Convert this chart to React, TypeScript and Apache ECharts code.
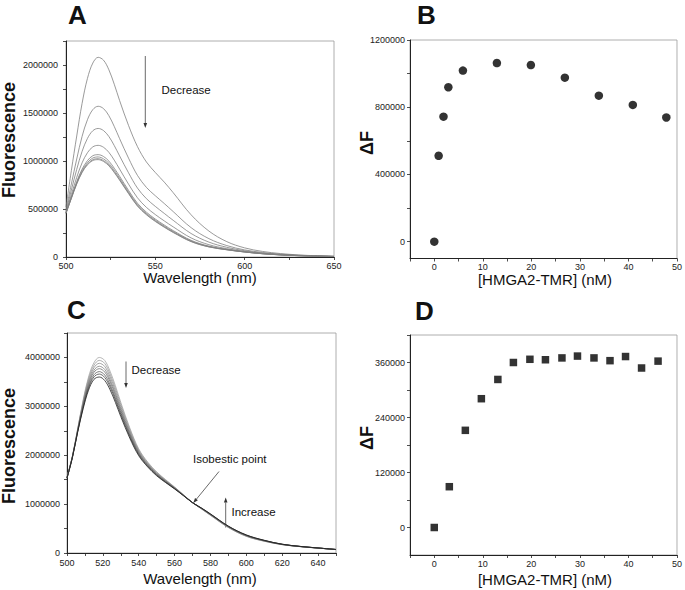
import React, { useEffect, useRef } from 'react';
import * as echarts from 'echarts';

const FONT = '"Liberation Sans", Arial, Helvetica, sans-serif';

// ---------- Panel A: emission spectra (wavelength, nm) ----------
const wavelengthA = [500, 503, 506, 509, 512, 515, 518, 521, 524, 527, 530, 535, 540, 545, 550, 555, 560, 570, 580, 590, 600, 610, 620, 630, 640, 650];
const specA1 = [520000, 900000, 1260000, 1600000, 1860000, 2020000, 2080000, 2050000, 1950000, 1800000, 1630000, 1370000, 1150000, 990000, 880000, 780000, 670000, 440000, 270000, 160000, 95000, 58000, 36000, 22000, 13000, 8000];
const specA2 = [489000, 761000, 1021000, 1256000, 1430000, 1535000, 1570000, 1546000, 1472000, 1360000, 1233000, 1030000, 850000, 725000, 638000, 557000, 473000, 306000, 191000, 119000, 74000, 47000, 29000, 18000, 11000, 7000];
const specA3 = [475000, 698000, 913000, 1100000, 1235000, 1315000, 1339000, 1317000, 1255000, 1161000, 1053000, 877000, 718000, 608000, 527000, 454000, 382000, 245000, 155000, 101000, 65000, 41000, 26000, 16000, 10000, 6000];
const specA4 = [464000, 651000, 830000, 981000, 1086000, 1147000, 1163000, 1143000, 1090000, 1009000, 916000, 759000, 617000, 517000, 442000, 376000, 314000, 199000, 128000, 87000, 58000, 37000, 24000, 15000, 10000, 5000];
const specA5 = [458000, 624000, 785000, 915000, 1004000, 1055000, 1066000, 1047000, 999000, 925000, 841000, 694000, 560000, 467000, 395000, 333000, 275000, 174000, 113000, 79000, 54000, 35000, 23000, 14000, 9000, 5000];
const specA6 = [457000, 618000, 773000, 899000, 983000, 1031000, 1042000, 1022000, 976000, 904000, 822000, 678000, 546000, 454000, 384000, 322000, 266000, 167000, 109000, 77000, 53000, 35000, 22000, 14000, 9000, 5000];
const specA7 = [456000, 613000, 765000, 886000, 968000, 1014000, 1024000, 1004000, 959000, 888000, 807000, 666000, 535000, 445000, 375000, 314000, 259000, 163000, 106000, 76000, 52000, 34000, 22000, 14000, 9000, 5000];
const specA8 = [455000, 610000, 760000, 880000, 960000, 1005000, 1014000, 995000, 950000, 880000, 800000, 660000, 530000, 440000, 370000, 310000, 255000, 160000, 105000, 75000, 52000, 34000, 22000, 14000, 9000, 5000];
const spectraA = [specA1, specA2, specA3, specA4, specA5, specA6, specA7, specA8];

// ---------- Panel B: titration ----------
const concB = [0, 0.9, 1.9, 2.9, 5.9, 12.9, 19.9, 26.9, 33.9, 40.9, 47.8];
const deltaFB = [0, 511000, 744000, 919000, 1018000, 1063000, 1051000, 976000, 869000, 814000, 739000];

// ---------- Panel C: emission spectra ----------
const wavelengthC = [500, 503, 506, 509, 512, 515, 518, 521, 524, 527, 530, 535, 540, 545, 550, 555, 560, 565, 570, 575, 580, 590, 600, 610, 620, 630, 640, 650];
const specC1 = [1550000, 1980000, 2550000, 3130000, 3600000, 3890000, 4000000, 3940000, 3720000, 3420000, 3080000, 2560000, 2130000, 1860000, 1660000, 1500000, 1350000, 1190000, 1030000, 900000, 770000, 520000, 340000, 240000, 170000, 130000, 100000, 70000];
const specC2 = [1547000, 1976000, 2540000, 3103000, 3560000, 3839000, 3940000, 3879000, 3663000, 3369000, 3037000, 2529000, 2109000, 1845000, 1648000, 1491000, 1344000, 1187000, 1030000, 903000, 774000, 524000, 344000, 243000, 171000, 131000, 100000, 70000];
const specC3 = [1544000, 1971000, 2529000, 3076000, 3519000, 3788000, 3880000, 3817000, 3606000, 3318000, 2993000, 2497000, 2088000, 1830000, 1636000, 1482000, 1338000, 1184000, 1030000, 906000, 779000, 529000, 349000, 246000, 173000, 132000, 101000, 71000];
const specC4 = [1541000, 1967000, 2519000, 3049000, 3479000, 3737000, 3820000, 3756000, 3549000, 3267000, 2950000, 2466000, 2067000, 1815000, 1624000, 1473000, 1332000, 1181000, 1030000, 909000, 784000, 534000, 354000, 249000, 175000, 132000, 101000, 71000];
const specC5 = [1539000, 1963000, 2510000, 3027000, 3445000, 3695000, 3770000, 3704000, 3502000, 3225000, 2913000, 2439000, 2050000, 1803000, 1614000, 1466000, 1327000, 1179000, 1030000, 912000, 787000, 537000, 357000, 252000, 176000, 133000, 102000, 71000];
const specC6 = [1536000, 1958000, 2499000, 3000000, 3404000, 3644000, 3710000, 3643000, 3445000, 3174000, 2870000, 2408000, 2029000, 1788000, 1602000, 1457000, 1321000, 1176000, 1030000, 915000, 792000, 542000, 362000, 255000, 177000, 134000, 102000, 71000];
const specC7 = [1533000, 1955000, 2491000, 2977000, 3371000, 3601000, 3660000, 3592000, 3397000, 3131000, 2834000, 2382000, 2011000, 1775000, 1592000, 1449000, 1316000, 1173000, 1030000, 917000, 796000, 546000, 366000, 257000, 179000, 134000, 103000, 72000];
const specC8 = [1530000, 1950000, 2480000, 2950000, 3330000, 3550000, 3600000, 3530000, 3340000, 3080000, 2790000, 2350000, 1990000, 1760000, 1580000, 1440000, 1310000, 1170000, 1030000, 920000, 800000, 550000, 370000, 260000, 180000, 135000, 103000, 72000];
const spectraC = [specC1, specC2, specC3, specC4, specC5, specC6, specC7, specC8];
const colorsC = ['#a4a4a4', '#999999', '#8c8c8c', '#7e7e7e', '#6e6e6e', '#5a5a5a', '#444444', '#1e1e1e'];

// ---------- Panel D: titration ----------
const concD = [0, 3.1, 6.4, 9.7, 13.1, 16.3, 19.7, 22.9, 26.3, 29.5, 32.9, 36.2, 39.4, 42.7, 46.1];
const deltaFD = [0, 89000, 212000, 281000, 323000, 360000, 367000, 366000, 370000, 374000, 370000, 364000, 373000, 348000, 363000];

// ---------- ticks ----------
const ticksA_x = [500, 525, 550, 575, 600, 625, 650];
const labelsA_x = [500, 550, 600, 650];
const ticksA_y = [0, 250000, 500000, 750000, 1000000, 1250000, 1500000, 1750000, 2000000, 2250000];
const labelsA_y = [0, 500000, 1000000, 1500000, 2000000];
const ticksB_x = [-5, 0, 5, 10, 15, 20, 25, 30, 35, 40, 45, 50];
const labelsB_x = [0, 10, 20, 30, 40, 50];
const ticksB_y = [0, 200000, 400000, 600000, 800000, 1000000, 1200000];
const labelsB_y = [0, 400000, 800000, 1200000];
const ticksC_x = [500, 510, 520, 530, 540, 550, 560, 570, 580, 590, 600, 610, 620, 630, 640, 650];
const labelsC_x = [500, 520, 540, 560, 580, 600, 620, 640];
const ticksC_y = [0, 500000, 1000000, 1500000, 2000000, 2500000, 3000000, 3500000, 4000000, 4500000];
const labelsC_y = [0, 1000000, 2000000, 3000000, 4000000];
const ticksD_y = [0, 60000, 120000, 180000, 240000, 300000, 360000, 420000];
const labelsD_y = [0, 120000, 240000, 360000];

function axis(gridIndex: number, min: number, max: number, labels: number[], ticks: number[], margin: number) {
  return {
    type: 'value',
    gridIndex,
    min,
    max,
    splitLine: { show: false },
    axisLine: { show: true, onZero: false, lineStyle: { color: '#222', width: 1 } },
    axisTick: { show: true, length: 3, customValues: ticks, lineStyle: { color: '#222', width: 0.8 } },
    axisLabel: {
      customValues: labels,
      formatter: (v: number) => String(v),
      fontSize: 9,
      color: '#222',
      fontFamily: FONT,
      margin,
      showMinLabel: true,
      showMaxLabel: true,
    },
  };
}

function txt(text: string, x: number, y: number, size: number, weight: string = 'normal', align: string = 'left', rotation = 0) {
  return {
    type: 'text',
    x,
    y,
    rotation,
    style: { text, fontSize: size, fontWeight: weight, fontFamily: FONT, fill: '#111', align, verticalAlign: 'middle' },
  };
}

function arrowLine(x1: number, y1: number, x2: number, y2: number) {
  const dx = x2 - x1, dy = y2 - y1;
  const len = Math.sqrt(dx * dx + dy * dy);
  const ux = dx / len, uy = dy / len;
  const hl = 5, hw = 1.8;
  const bx = x2 - ux * hl, by = y2 - uy * hl;
  return [
    { type: 'line', shape: { x1, y1, x2: bx, y2: by }, style: { stroke: '#444', lineWidth: 0.8 } },
    {
      type: 'polygon',
      shape: { points: [[x2, y2], [bx - uy * hw, by + ux * hw], [bx + uy * hw, by - ux * hw]] },
      style: { fill: '#333' },
    },
  ];
}

export default function App() {
  const ref = useRef<HTMLDivElement>(null);
  useEffect(() => {
    const chart = echarts.init(ref.current as HTMLDivElement, null, { renderer: 'svg' });
    const gridStyle = { show: true, borderColor: '#9a9a9a', borderWidth: 0.8, backgroundColor: 'transparent' };
    const seriesA = spectraA.map((s) => ({
      type: 'line',
      xAxisIndex: 0,
      yAxisIndex: 0,
      data: wavelengthA.map((w, i) => [w, s[i]]),
      showSymbol: false,
      symbol: 'none',
      smooth: 0.35,
      lineStyle: { color: '#808080', width: 0.8 },
    }));
    const seriesC = spectraC.map((s, k) => ({
      type: 'line',
      xAxisIndex: 2,
      yAxisIndex: 2,
      data: wavelengthC.map((w, i) => [w, s[i]]),
      showSymbol: false,
      symbol: 'none',
      smooth: 0.35,
      lineStyle: { color: colorsC[k], width: 0.8 },
    }));
    const option = {
      animation: false,
      backgroundColor: '#fff',
      grid: [
        { left: 66, top: 41, width: 268, height: 216, ...gridStyle },
        { left: 410, top: 40, width: 269, height: 218.5, ...gridStyle },
        { left: 67, top: 333, width: 269, height: 220, ...gridStyle },
        { left: 410, top: 335, width: 269, height: 220, ...gridStyle },
      ],
      xAxis: [
        axis(0, 500, 650, labelsA_x, ticksA_x, 4),
        axis(1, -5, 50, labelsB_x, ticksB_x, 4),
        axis(2, 500, 650, labelsC_x, ticksC_x, 5),
        axis(3, -5, 50, labelsB_x, ticksB_x, 4),
      ],
      yAxis: [
        axis(0, 0, 2250000, labelsA_y, ticksA_y, 8),
        axis(1, -100000, 1200000, labelsB_y, ticksB_y, 5),
        axis(2, 0, 4500000, labelsC_y, ticksC_y, 7),
        axis(3, -60000, 420000, labelsD_y, ticksD_y, 5),
      ],
      series: [
        ...seriesA,
        {
          type: 'scatter',
          xAxisIndex: 1,
          yAxisIndex: 1,
          symbol: 'circle',
          symbolSize: 8.5,
          itemStyle: { color: '#000' },
          data: concB.map((c, i) => [c, deltaFB[i]]),
        },
        ...seriesC,
        {
          type: 'scatter',
          xAxisIndex: 3,
          yAxisIndex: 3,
          symbol: 'rect',
          symbolSize: 7.5,
          itemStyle: { color: '#000' },
          data: concD.map((c, i) => [c, deltaFD[i]]),
        },
      ],
      graphic: [
        txt('A', 68, 14.5, 26, 'bold'),
        txt('B', 417, 14.5, 26, 'bold'),
        txt('C', 67, 310, 26, 'bold'),
        txt('D', 415, 310.5, 26, 'bold'),
        txt('Fluorescence', 9, 140, 18, 'bold', 'center', Math.PI / 2),
        txt('Fluorescence', 9, 446, 18, 'bold', 'center', Math.PI / 2),
        txt('ΔF', 367, 143, 18, 'bold', 'center', Math.PI / 2),
        txt('ΔF', 367, 438, 18, 'bold', 'center', Math.PI / 2),
        txt('Wavelength (nm)', 200, 277.5, 15, 'normal', 'center'),
        txt('Wavelength (nm)', 200, 578.5, 15, 'normal', 'center'),
        txt('[HMGA2-TMR] (nM)', 545, 279, 15, 'normal', 'center'),
        txt('[HMGA2-TMR] (nM)', 545, 579, 15, 'normal', 'center'),
        txt('Decrease', 161.5, 89.5, 11.5),
        ...arrowLine(145.3, 56, 145.3, 128),
        txt('Decrease', 131.5, 370, 11.5),
        ...arrowLine(126, 361.5, 126, 388),
        txt('Isobestic point', 193, 458.5, 11.5),
        ...arrowLine(219, 471.5, 193.3, 503),
        txt('Increase', 231.5, 512, 11.5),
        ...arrowLine(225.7, 527.5, 225.7, 497.5),
      ],
    };
    chart.setOption(option as any);
    return () => chart.dispose();
  }, []);
  return (
    <div
      ref={ref}
      style={{ position: 'absolute', left: 0, top: 0, width: 685, height: 590, background: '#fff' }}
    />
  );
}
